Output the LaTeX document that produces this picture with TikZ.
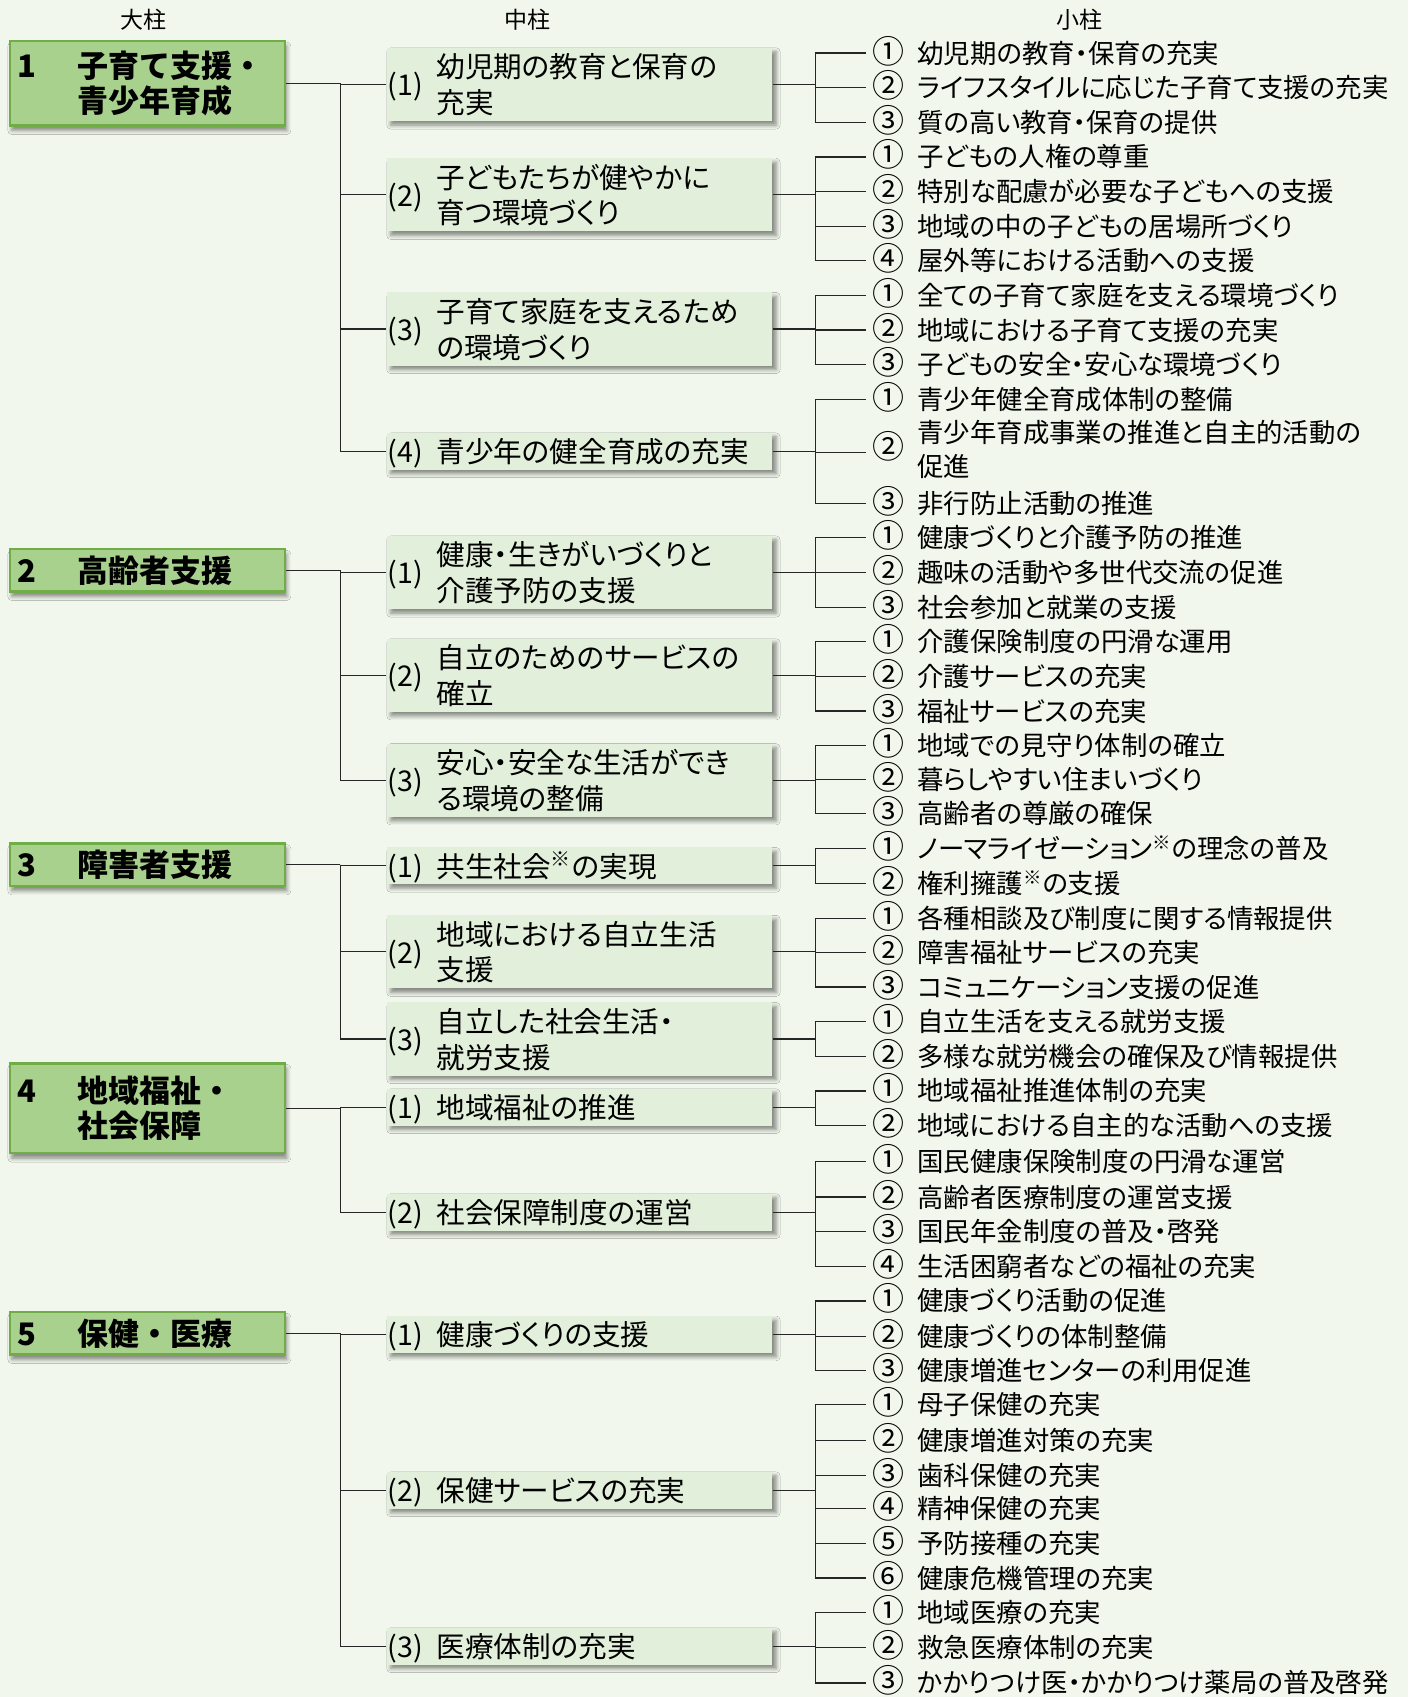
\documentclass[tikz,border=0pt]{standalone}
\usepackage{fontspec}
\setmainfont{Noto Sans CJK JP}
\newfontfamily\jpp{Noto Sans CJK JP}[RawFeature=+palt]
\usetikzlibrary{shadows.blur}

\definecolor{bgcol}{RGB}{241,247,236}
\definecolor{bigfill}{RGB}{169,209,142}
\definecolor{bigline}{RGB}{112,173,71}
\definecolor{midfill}{RGB}{226,239,218}

\newcommand{\midtext}[2]{\raisebox{-2pt}[\height][\depth]{\makebox[24.4pt][l]{#1}\begin{tabular}[c]{@{}l@{}}#2\end{tabular}}}
\newcommand{\subs}[2]{%
  \path (#1.east) ++(40,0) coordinate (#1k);
  \draw[conn] (#1.east) -- (#1k);
  \foreach \c/\yy/\t [count=\i] in {#2}{
    \node[subitem] (#1s\i) at (800,\yy) {\raisebox{0pt}[0pt][0pt]{\fontsize{16}{16}\selectfont\c}\hspace{0.5em}\t};
    \draw[conn] (#1k) |- (#1s\i.west);
  }%
}

\begin{document}
\begin{tikzpicture}[x=0.5412pt,y=-0.5412pt]
	\tikzset{
		bigbox/.style={draw=bigline, line width=1.2pt, fill=bigfill, anchor=west,
			text width=129.9pt, inner xsep=3.8pt, inner ysep=0pt, align=left,
			font=\fontsize{15.5}{17.9}\selectfont\bfseries,
			blur shadow={shadow xshift=1pt, shadow yshift=-2.5pt, shadow blur radius=2pt, shadow opacity=45}},
		midbox/.style={fill=midfill, anchor=west, text width=191.7pt, inner xsep=0.5pt,
			inner ysep=0pt, align=left, font=\jpp\fontsize{14.3}{17.9}\selectfont,
			blur shadow={shadow xshift=2pt, shadow yshift=-2pt, shadow blur radius=2pt, shadow opacity=45}},
		mid1/.style={midbox, minimum height=18.4pt},
		mid2/.style={midbox, minimum height=36.6pt},
		subitem/.style={anchor=west, inner xsep=3pt, inner ysep=0pt,
			font=\jpp\fontsize{13.2}{17.3}\selectfont},
		head/.style={font=\fontsize{11.5}{13}\selectfont},
		conn/.style={line width=0.6pt, black!85}
	}
	\fill[bgcol] (0,0) rectangle (1301,1568);
	\useasboundingbox (0,0) rectangle (1301,1568);

	% headings
	\node[head] (h1) at (133,18) {大柱};
	\node[head] (h2) at (487,18) {中柱};
	\node[head] (h3) at (997,18) {小柱};

	% 大柱
	\node[bigbox, minimum height=42.2pt] (b1) at (8,77) {\makebox[29.8pt][l]{1}子育て支援・\\\hspace*{29.8pt}青少年育成};
	\node[bigbox, minimum height=21.1pt] (b2) at (8,527) {\makebox[29.8pt][l]{2}高齢者支援};
	\node[bigbox, minimum height=21.1pt] (b3) at (8,799) {\makebox[29.8pt][l]{3}障害者支援};
	\node[bigbox, minimum height=44.9pt] (b4) at (8,1024) {\makebox[29.8pt][l]{4}地域福祉・\\\hspace*{29.8pt}社会保障};
	\node[bigbox, minimum height=21.1pt] (b5) at (8,1232) {\makebox[29.8pt][l]{5}保健・医療};

	% 中柱
	\node[mid2] (m11) at (357,78) {\midtext{(1)}{幼児期の教育と保育の\\充実}};
	\node[mid2] (m12) at (357,180) {\midtext{(2)}{子どもたちが健やかに\\育つ環境づくり}};
	\node[mid2] (m13) at (357,304) {\midtext{(3)}{子育て家庭を支えるため\\の環境づくり}};
	\node[mid1] (m14) at (357,417) {\midtext{(4)}{青少年の健全育成の充実}};

	\node[mid2] (m21) at (357,529) {\midtext{(1)}{健康・生きがいづくりと\\介護予防の支援}};
	\node[mid2] (m22) at (357,624) {\midtext{(2)}{自立のためのサービスの\\確立}};
	\node[mid2] (m23) at (357,721) {\midtext{(3)}{安心・安全な生活ができ\\る環境の整備}};

	\node[mid1] (m31) at (357,800) {\midtext{(1)}{共生社会\textsuperscript{※}の実現}};
	\node[mid2] (m32) at (357,879.5) {\midtext{(2)}{地域における自立生活\\支援}};
	\node[mid2] (m33) at (357,960) {\midtext{(3)}{自立した社会生活・\\就労支援}};

	\node[mid1] (m41) at (357,1023) {\midtext{(1)}{地域福祉の推進}};
	\node[mid1] (m42) at (357,1120) {\midtext{(2)}{社会保障制度の運営}};

	\node[mid1] (m51) at (357,1233) {\midtext{(1)}{健康づくりの支援}};
	\node[mid1] (m52) at (357,1377) {\midtext{(2)}{保健サービスの充実}};
	\node[mid1] (m53) at (357,1521) {\midtext{(3)}{医療体制の充実}};

	% 大柱 -> 中柱
	\path (b1.east) ++(50,0) coordinate (j1);
	\path (b2.east) ++(50,0) coordinate (j2);
	\path (b3.east) ++(50,0) coordinate (j3);
	\path (b4.east) ++(50,0) coordinate (j4);
	\path (b5.east) ++(50,0) coordinate (j5);
	\foreach \b in {1,...,5} \draw[conn] (b\b.east) -- (j\b);
	\foreach \m in {m11,m12,m13,m14} \draw[conn] (j1) |- (\m.west);
	\foreach \m in {m21,m22,m23} \draw[conn] (j2) |- (\m.west);
	\foreach \m in {m31,m32,m33} \draw[conn] (j3) |- (\m.west);
	\foreach \m in {m41,m42} \draw[conn] (j4) |- (\m.west);
	\foreach \m in {m51,m52,m53} \draw[conn] (j5) |- (\m.west);

	% 小柱
	\subs{m11}{①/49/幼児期の教育・保育の充実, ②/81/ライフスタイルに応じた子育て支援の充実, ③/113/質の高い教育・保育の提供}
	\subs{m12}{①/145/子どもの人権の尊重, ②/177/特別な配慮が必要な子どもへの支援, ③/209/地域の中の子どもの居場所づくり, ④/241/屋外等における活動への支援}
	\subs{m13}{①/273/全ての子育て家庭を支える環境づくり, ②/305/地域における子育て支援の充実, ③/337/子どもの安全・安心な環境づくり}
	\subs{m14}{①/369/青少年健全育成体制の整備, ②/418/{\begin{tabular}[c]{@{}l@{}}青少年育成事業の推進と自主的活動の\\促進\end{tabular}}, ③/465/非行防止活動の推進}
	\subs{m21}{①/497/健康づくりと介護予防の推進, ②/529/趣味の活動や多世代交流の促進, ③/561/社会参加と就業の支援}
	\subs{m22}{①/593/介護保険制度の円滑な運用, ②/625/介護サービスの充実, ③/657/福祉サービスの充実}
	\subs{m23}{①/689/地域での見守り体制の確立, ②/720/暮らしやすい住まいづくり, ③/752/高齢者の尊厳の確保}
	\subs{m31}{①/784/{ノーマライゼーション\textsuperscript{※}の理念の普及}, ②/816/{権利擁護\textsuperscript{※}の支援}}
	\subs{m32}{①/849/各種相談及び制度に関する情報提供, ②/880/障害福祉サービスの充実, ③/912/コミュニケーション支援の促進}
	\subs{m33}{①/944/自立生活を支える就労支援, ②/976/多様な就労機会の確保及び情報提供}
	\subs{m41}{①/1008/地域福祉推進体制の充実, ②/1040/地域における自主的な活動への支援}
	\subs{m42}{①/1073/国民健康保険制度の円滑な運営, ②/1106/高齢者医療制度の運営支援, ③/1138/国民年金制度の普及・啓発, ④/1170/生活困窮者などの福祉の充実}
	\subs{m51}{①/1202/健康づくり活動の促進, ②/1235/健康づくりの体制整備, ③/1266/健康増進センターの利用促進}
	\subs{m52}{①/1298/母子保健の充実, ②/1331/健康増進対策の充実, ③/1363/歯科保健の充実, ④/1394/精神保健の充実, ⑤/1426/予防接種の充実, ⑥/1458/健康危機管理の充実}
	\subs{m53}{①/1490/地域医療の充実, ②/1522/救急医療体制の充実, ③/1555/かかりつけ医・かかりつけ薬局の普及啓発}
\end{tikzpicture}
\end{document}
